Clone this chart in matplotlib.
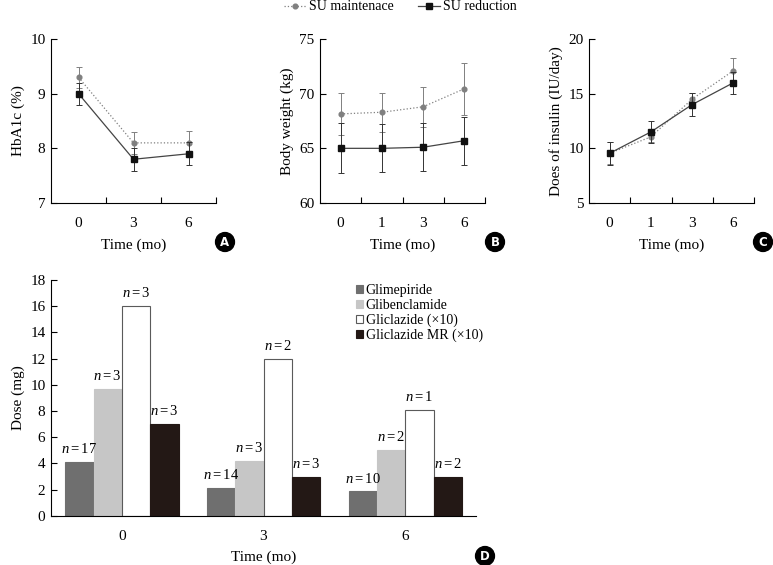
import numpy as np
import matplotlib
matplotlib.use("Agg")
import matplotlib.pyplot as plt
from matplotlib.patches import Patch
from matplotlib.lines import Line2D

plt.rcParams['font.family'] = ['Liberation Serif', 'DejaVu Serif']
plt.rcParams['mathtext.fontset'] = 'custom'
plt.rcParams['mathtext.it'] = 'Liberation Serif:italic'
plt.rcParams['mathtext.rm'] = 'Liberation Serif'

# ---------------- data ----------------
a_times = ["0", "3", "6"]
a_maint = [9.3, 8.1, 8.1]
a_maint_err = [0.19, 0.2, 0.21]
a_red = [9.0, 7.8, 7.9]
a_red_err = [0.2, 0.21, 0.21]

b_times = ["0", "1", "3", "6"]
b_maint = [68.15, 68.3, 68.8, 70.45]
b_maint_err = [1.9, 1.8, 1.85, 2.4]
b_red = [65.0, 65.0, 65.1, 65.7]
b_red_err = [2.3, 2.2, 2.2, 2.2]

c_times = ["0", "1", "3", "6"]
c_maint = [9.55, 11.05, 14.5, 17.1]
c_maint_err = [1.0, 0.5, 0.6, 1.2]
c_red = [9.55, 11.5, 14.0, 16.0]
c_red_err = [1.05, 1.0, 1.05, 1.0]

d_times = ["0", "3", "6"]
d_drugs = ["Glimepiride", "Glibenclamide", "Gliclazide (\u00d710)", "Gliclazide MR (\u00d710)"]
d_values = [
    [4.1, 2.1, 1.85],
    [9.7, 4.15, 5.0],
    [16.0, 12.0, 8.05],
    [7.0, 2.95, 2.95],
]
d_n = [
    [17, 14, 10],
    [3, 3, 2],
    [3, 2, 1],
    [3, 3, 2],
]
d_colors = ["#6f6f6f", "#c6c6c6", "#ffffff", "#231815"]
d_edges = ["#6f6f6f", "#c6c6c6", "#5a5a5a", "#231815"]

maint_color = "#808080"
red_color = "#111111"

fig = plt.figure(figsize=(7.73, 5.65), dpi=100)
W, H = 773.0, 565.0

def ax_at(x0, y0, x1, y1):
    return fig.add_axes([x0 / W, 1 - y1 / H, (x1 - x0) / W, (y1 - y0) / H])

def style_line_ax(ax, times, ylim, yticks, ylabel):
    n = len(times)
    ax.set_xlim(0, n)
    ax.set_ylim(*ylim)
    ax.set_yticks(yticks)
    ax.set_xticks(np.arange(n) + 0.5)
    ax.set_xticklabels(times)
    ax.set_xticks(np.arange(1, n + 1), minor=True)
    ax.tick_params(axis='x', which='major', length=0, pad=10, labelsize=11)
    ax.tick_params(axis='x', which='minor', length=4, direction='in', width=0.8)
    ax.tick_params(axis='y', length=4, direction='in', width=0.8, labelsize=11, pad=4)
    for s in ['top', 'right']:
        ax.spines[s].set_visible(False)
    for s in ['left', 'bottom']:
        ax.spines[s].set_linewidth(0.8)
    ax.set_ylabel(ylabel, fontsize=11)
    ax.set_xlabel("Time (mo)", fontsize=11, labelpad=6)

def plot_series(ax, maint, maint_err, red, red_err):
    x = np.arange(len(maint)) + 0.5
    ax.errorbar(x, maint, yerr=maint_err, color=maint_color, ls=':', lw=0.9,
                marker='o', ms=3.4, capsize=2, elinewidth=0.7, capthick=0.7, zorder=3)
    ax.errorbar(x, red, yerr=red_err, color='#444444', ecolor='#333333', ls='-', lw=0.9,
                marker='s', ms=3.9, mfc=red_color, mec=red_color, capsize=2,
                elinewidth=0.7, capthick=0.7, zorder=4)

axA = ax_at(51, 39, 216, 203)
plot_series(axA, a_maint, a_maint_err, a_red, a_red_err)
style_line_ax(axA, a_times, (7, 10), [7, 8, 9, 10], "HbA1c (%)")

axB = ax_at(320, 39, 485, 203)
plot_series(axB, b_maint, b_maint_err, b_red, b_red_err)
style_line_ax(axB, b_times, (60, 75), [60, 65, 70, 75], "Body weight (kg)")

axC = ax_at(589, 39, 754, 203)
plot_series(axC, c_maint, c_maint_err, c_red, c_red_err)
style_line_ax(axC, c_times, (5, 20), [5, 10, 15, 20], "Does of insulin (IU/day)")

# top legend
h1 = Line2D([], [], color=maint_color, ls=':', lw=0.9, marker='o', ms=3.4)
h2 = Line2D([], [], color='#444444', ls='-', lw=0.9, marker='s', ms=3.9, mfc=red_color, mec=red_color)
fig.legend([h1, h2], ["SU maintenace", "SU reduction"], loc='upper center',
           bbox_to_anchor=(0.518, 1 - 0.5 / H), ncol=2, frameon=False, fontsize=10,
           handlelength=1.6, handletextpad=0.2, columnspacing=1.7,
           borderaxespad=0, borderpad=0)

# panel D
axD = ax_at(51, 280, 476, 515.7)
xg = np.arange(len(d_times))
bw = 0.2
for i, (vals, ns) in enumerate(zip(d_values, d_n)):
    xs = xg + (i - 1.5) * bw
    axD.bar(xs, vals, width=bw, color=d_colors[i], edgecolor=d_edges[i], linewidth=0.8,
            label=d_drugs[i], zorder=2)
    for xx, v, nn in zip(xs, vals, ns):
        axD.text(xx, v + 0.45, r"$n=%d$" % nn, ha='center', va='bottom', fontsize=10.5)
axD.set_xlim(-0.5, 2.5)
axD.set_ylim(0, 18)
axD.set_yticks(np.arange(0, 19, 2))
axD.set_xticks(xg)
axD.set_xticklabels(d_times)
axD.tick_params(axis='x', length=0, pad=10, labelsize=11)
axD.tick_params(axis='y', length=4, direction='in', width=0.8, labelsize=11, pad=4)
for s in ['top', 'right']:
    axD.spines[s].set_visible(False)
for s in ['left', 'bottom']:
    axD.spines[s].set_linewidth(0.8)
axD.set_ylabel("Dose (mg)", fontsize=11)
axD.set_xlabel("Time (mo)", fontsize=11, labelpad=6)
hs = [Patch(facecolor=c, edgecolor=e, linewidth=0.8) for c, e in zip(d_colors, d_edges)]
fig.legend(hs, d_drugs, loc='upper left', bbox_to_anchor=(356 / W, 1 - 284 / H),
           frameon=False, fontsize=10, handlelength=0.5, handleheight=0.5,
           handletextpad=0.2, labelspacing=0.12, borderaxespad=0, borderpad=0)

# panel letters
for letter, (px, py) in zip("ABCD", [(225, 242), (495, 242), (763, 242), (485, 556)]):
    fig.text(px / W, 1 - py / H, letter, ha='center', va='center', color='white',
             fontsize=8.5, fontweight='bold', family='DejaVu Sans',
             bbox=dict(boxstyle='circle,pad=0.25', fc='black', ec='black'))

fig.savefig("out.png", dpi=100)
